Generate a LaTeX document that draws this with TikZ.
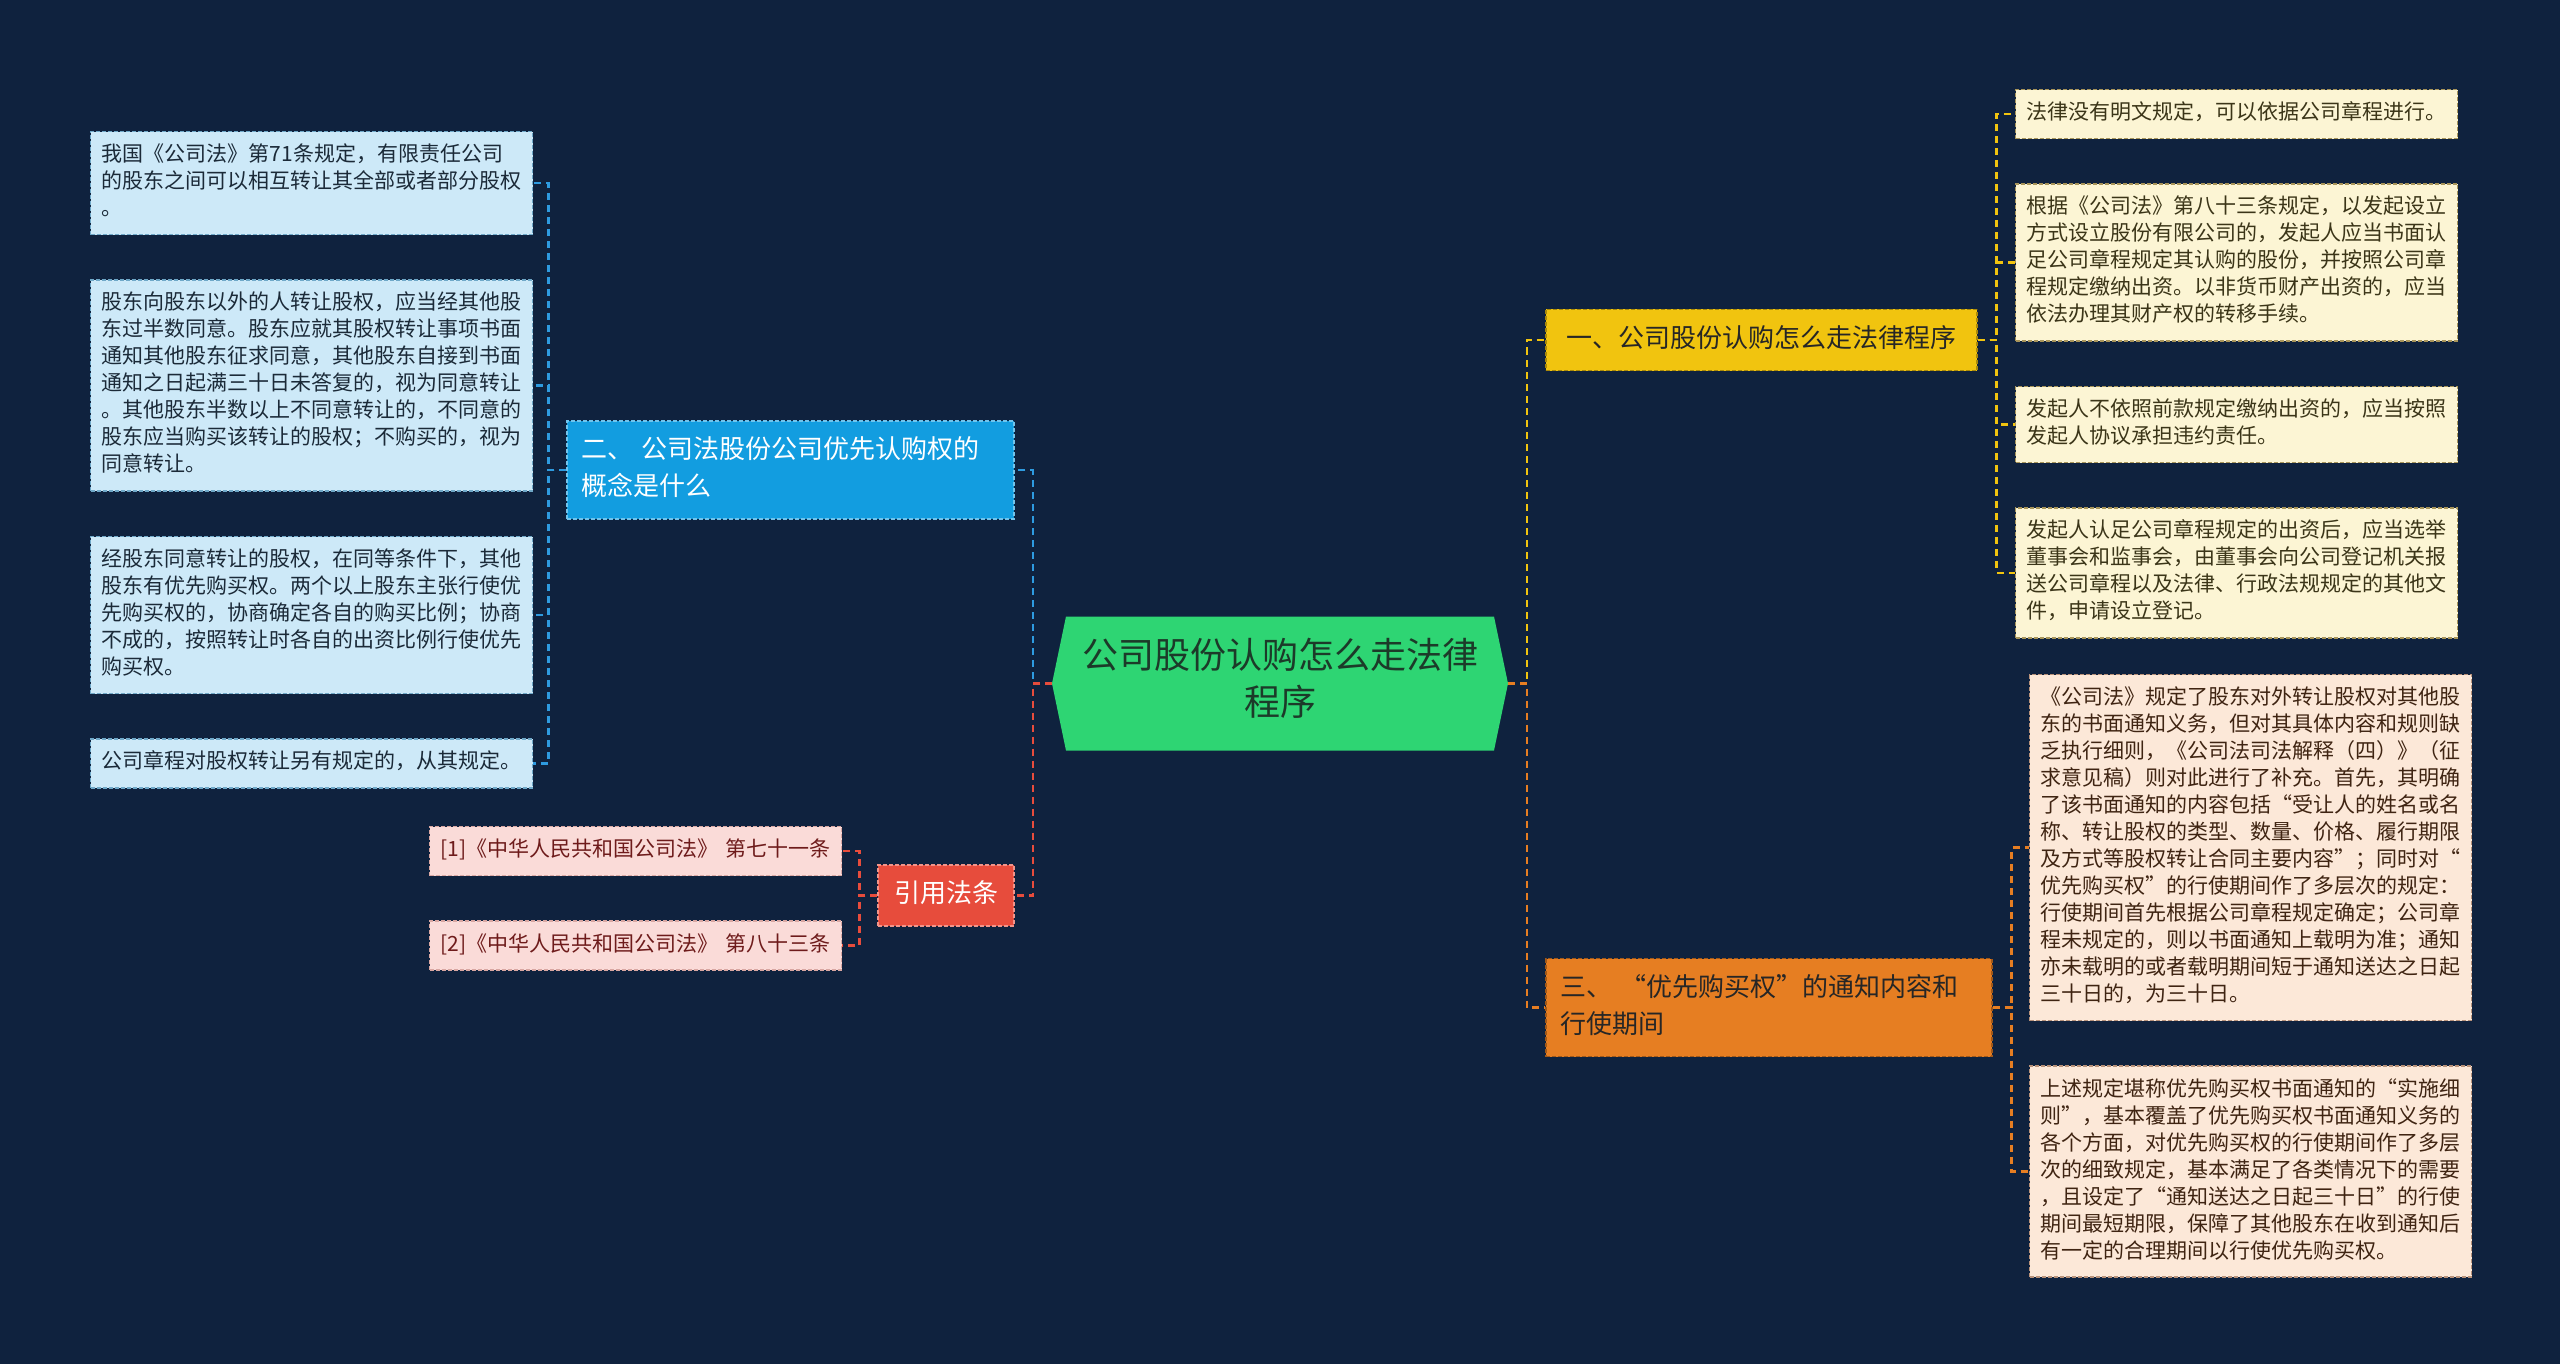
\documentclass[tikz,border=0pt]{standalone}
\usepackage{fontspec}
\newfontfamily\cjk{Noto Sans CJK SC}
\usepackage{tikz}
\usetikzlibrary{positioning,shapes.symbols}
\definecolor{bg}{HTML}{0F223E}
\definecolor{rootgreen}{HTML}{2ED573}
\definecolor{roottext}{HTML}{1C3A29}
\definecolor{brblue}{HTML}{129DE0}
\definecolor{brred}{HTML}{E74C3C}
\definecolor{bryellow}{HTML}{F1C40F}
\definecolor{brorange}{HTML}{E67E22}
\definecolor{lineblue}{HTML}{2E9BE0}
\definecolor{bleaffill}{HTML}{CDE9F8}
\definecolor{bleafline}{HTML}{6FA8C8}
\definecolor{bleaftext}{HTML}{1B2A38}
\definecolor{yleaffill}{HTML}{FCF5D4}
\definecolor{yleafline}{HTML}{A8955A}
\definecolor{yleaftext}{HTML}{3B3518}
\definecolor{oleaffill}{HTML}{FCE8D8}
\definecolor{oleafline}{HTML}{B8927A}
\definecolor{oleaftext}{HTML}{3F2412}
\definecolor{pleaffill}{HTML}{FADBD8}
\definecolor{pleafline}{HTML}{D9A7A2}
\definecolor{pleaftext}{HTML}{6E1B1B}

\begin{document}
\begin{tikzpicture}[
  x=1pt, y=-1pt,
  node distance=44pt,
  box/.style={draw, dash pattern=on 4pt off 2pt, line width=1.4pt, inner xsep=11pt, inner ysep=11pt,
              execute at begin node=\strut, execute at end node=\strut},
  leaf/.style={box, font=\cjk\fontsize{21pt}{27pt}\selectfont, text width=420pt, align=left, anchor=north west},
  bleaf/.style={leaf, fill=bleaffill, draw=bleafline, text=bleaftext},
  yleaf/.style={leaf, fill=yleaffill, draw=yleafline, text=yleaftext},
  oleaf/.style={leaf, fill=oleaffill, draw=oleafline, text=oleaftext},
  pleaf/.style={leaf, fill=pleaffill, draw=pleafline, text=pleaftext, text width=390pt},
  br/.style={box, font=\cjk\fontsize{26pt}{37pt}\selectfont, inner xsep=14pt, inner ysep=12pt},
  root/.style={shape=signal, signal to=west and east, signal pointer angle=156.4, fill=rootgreen,
               text=roottext, font=\cjk\fontsize{36pt}{47pt}\selectfont, align=center,
               inner xsep=0pt, inner ysep=20pt, minimum width=456pt, minimum height=134pt,
               execute at begin node=\strut, execute at end node=\strut},
  ln/.style={line width=2.5pt, dash pattern=on 7pt off 5pt},
  lnb/.style={ln, draw=lineblue},
  lnr/.style={ln, draw=brred},
  lny/.style={ln, draw=bryellow},
  lno/.style={ln, draw=brorange}
]
\useasboundingbox (0,0) rectangle (2560,1364);
\fill[bg] (0,0) rectangle (2560,1364);

% centre and branches
\node[root] (root) at (1280,683.5) {公司股份认购怎么走法律\\程序};
\node[br, fill=bryellow, draw=bryellow!70!black, text=black!85, minimum width=431pt] (b1) at (1761.5,340) {一、公司股份认购怎么走法律程序};
\node[br, fill=brblue, draw=brblue!60!white, text=white, text width=419pt, align=left] (b2) at (790.5,470) {二、 公司法股份公司优先认购权的\\概念是什么};
\node[br, fill=brorange, draw=brorange!70!black, text=black!85, text width=418pt, align=left] (b3) at (1769,1007.5) {三、 “优先购买权”的通知内容和\\行使期间};
\node[br, fill=brred, draw=brred!60!white, text=white, minimum width=136pt] (cite) at (946,895.5) {引用法条};

% left leaves
\node[bleaf] (l1) at (90,131) {我国《公司法》第71条规定，有限责任公司\\的股东之间可以相互转让其全部或者部分股权\\。};
\node[bleaf, below=of l1] (l2) {股东向股东以外的人转让股权，应当经其他股\\东过半数同意。股东应就其股权转让事项书面\\通知其他股东征求同意，其他股东自接到书面\\通知之日起满三十日未答复的，视为同意转让\\。其他股东半数以上不同意转让的，不同意的\\股东应当购买该转让的股权；不购买的，视为\\同意转让。};
\node[bleaf, below=of l2] (l3) {经股东同意转让的股权，在同等条件下，其他\\股东有优先购买权。两个以上股东主张行使优\\先购买权的，协商确定各自的购买比例；协商\\不成的，按照转让时各自的出资比例行使优先\\购买权。};
\node[bleaf, below=of l3] (l4) {公司章程对股权转让另有规定的，从其规定。};
\node[pleaf] (c1) at (429,826) {[1]《中华人民共和国公司法》~第七十一条};
\node[pleaf, below=of c1] (c2) {[2]《中华人民共和国公司法》~第八十三条};

% right leaves
\node[yleaf] (y1) at (2015,89) {法律没有明文规定，可以依据公司章程进行。};
\node[yleaf, below=of y1] (y2) {根据《公司法》第八十三条规定，以发起设立\\方式设立股份有限公司的，发起人应当书面认\\足公司章程规定其认购的股份，并按照公司章\\程规定缴纳出资。以非货币财产出资的，应当\\依法办理其财产权的转移手续。};
\node[yleaf, below=of y2] (y3) {发起人不依照前款规定缴纳出资的，应当按照\\发起人协议承担违约责任。};
\node[yleaf, below=of y3] (y4) {发起人认足公司章程规定的出资后，应当选举\\董事会和监事会，由董事会向公司登记机关报\\送公司章程以及法律、行政法规规定的其他文\\件，申请设立登记。};
\node[oleaf] (o1) at (2029,674) {《公司法》规定了股东对外转让股权对其他股\\东的书面通知义务，但对其具体内容和规则缺\\乏执行细则，《公司法司法解释（四）》（征\\求意见稿）则对此进行了补充。首先，其明确\\了该书面通知的内容包括“受让人的姓名或名\\称、转让股权的类型、数量、价格、履行期限\\及方式等股权转让合同主要内容”；同时对“\\优先购买权”的行使期间作了多层次的规定：\\行使期间首先根据公司章程规定确定；公司章\\程未规定的，则以书面通知上载明为准；通知\\亦未载明的或者载明期间短于通知送达之日起\\三十日的，为三十日。};
\node[oleaf, below=of o1] (o2) {上述规定堪称优先购买权书面通知的“实施细\\则”，基本覆盖了优先购买权书面通知义务的\\各个方面，对优先购买权的行使期间作了多层\\次的细致规定，基本满足了各类情况下的需要\\，且设定了“通知送达之日起三十日”的行使\\期间最短期限，保障了其他股东在收到通知后\\有一定的合理期间以行使优先购买权。};

% connectors
\coordinate (jl) at ([xshift=-19pt]root.west);
\coordinate (jr) at ([xshift=19pt]root.east);
\coordinate (jb) at ([xshift=-18pt]b2.west);
\coordinate (jc) at ([xshift=-18pt]cite.west);
\coordinate (jy) at ([xshift=19pt]b1.east);
\coordinate (jo) at ([xshift=19pt]b3.east);
\draw[lnb] (root.west) -- (jl) |- (b2.east);
\draw[lnr] (root.west) -- (jl) |- (cite.east);
\draw[lny] (root.east) -- (jr) |- (b1.west);
\draw[lno] (root.east) -- (jr) |- (b3.west);
\foreach \n in {l1,l2,l3,l4}
  \draw[lnb] (b2.west) -- (jb) |- (\n.east);
\foreach \n in {c1,c2}
  \draw[lnr] (cite.west) -- (jc) |- (\n.east);
\foreach \n in {y1,y2,y3,y4}
  \draw[lny] (b1.east) -- (jy) |- (\n.west);
\foreach \n in {o1,o2}
  \draw[lno] (b3.east) -- (jo) |- (\n.west);
\end{tikzpicture}
\end{document}
